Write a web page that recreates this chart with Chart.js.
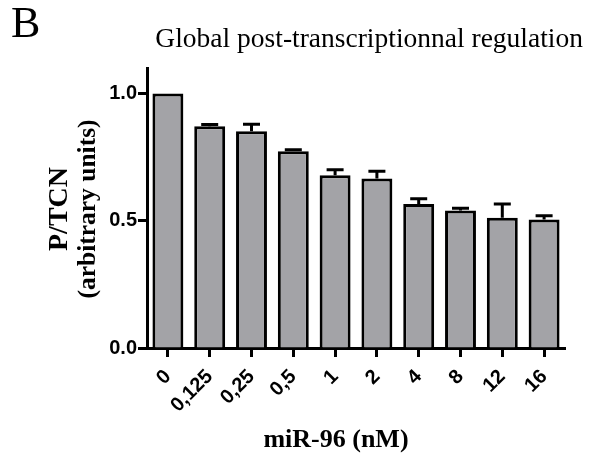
<!DOCTYPE html>
<html><head><meta charset="utf-8">
<script src="https://cdn.jsdelivr.net/npm/chart.js@4.4.1/dist/chart.umd.min.js"></script>
<style>html,body{margin:0;padding:0;background:#fff}#wrap{width:596px;height:455px;position:relative}</style>
</head><body><div id="wrap"><canvas id="c" width="596" height="455"></canvas></div>
<script>
// ---- data ----
const categories = ['0', '0,125', '0,25', '0,5', '1', '2', '4', '8', '12', '16'];
const values = [1.000, 0.871, 0.852, 0.773, 0.679, 0.666, 0.566, 0.540, 0.512, 0.505];
const errors = [0.000, 0.007, 0.027, 0.006, 0.021, 0.028, 0.020, 0.009, 0.054, 0.015];
const yTickValues = [0, 0.5, 1.0];
const panelLabel = 'B';
const chartTitle = 'Global post-transcriptionnal regulation';
const xTitle = 'miR-96 (nM)';
const yTitle = ['P/TCN', '(arbitrary units)'];

const SERIF = '"Liberation Serif", "Times New Roman", serif';
const SANS = '"Liberation Sans", Arial, sans-serif';

const errorBars = {
  id: 'errorBars',
  afterDatasetsDraw(chart) {
    const ctx = chart.ctx;
    const meta = chart.getDatasetMeta(0);
    const ys = chart.scales.y;
    ctx.save();
    ctx.strokeStyle = '#000';
    ctx.lineWidth = 3;
    ctx.lineCap = 'butt';
    meta.data.forEach((bar, i) => {
      if (!errors[i]) return;
      const yTop = ys.getPixelForValue(values[i] + errors[i]);
      const yBar = bar.y;
      ctx.beginPath();
      ctx.moveTo(bar.x, yBar);
      ctx.lineTo(bar.x, yTop);
      ctx.moveTo(bar.x - 8.5, yTop);
      ctx.lineTo(bar.x + 8.5, yTop);
      ctx.stroke();
    });
    ctx.restore();
  }
};

const texts = {
  id: 'texts',
  afterDraw(chart) {
    const ctx = chart.ctx;
    ctx.save();
    ctx.fillStyle = '#000';
    ctx.textBaseline = 'alphabetic';
    // panel label
    ctx.font = '44px ' + SERIF;
    ctx.textAlign = 'left';
    ctx.fillText(panelLabel, 11, 37);
    // title
    ctx.font = '27.5px ' + SERIF;
    ctx.textAlign = 'right';
    ctx.fillText(chartTitle, 583, 47);
    // x title
    ctx.font = 'bold 26px ' + SERIF;
    ctx.textAlign = 'center';
    ctx.fillText(xTitle, 336, 447);
    // y title (rotated)
    ctx.translate(0, 209);
    ctx.rotate(-Math.PI / 2);
    ctx.textAlign = 'center';
    ctx.textBaseline = 'middle';
    ctx.font = 'bold 28px ' + SERIF;
    ctx.fillText(yTitle[0], 0, 60);
    ctx.font = 'bold 25.5px ' + SERIF;
    ctx.fillText(yTitle[1], 0, 88);
    ctx.restore();
  }
};

new Chart(document.getElementById('c'), {
  type: 'bar',
  data: {
    labels: categories,
    datasets: [{
      data: values,
      backgroundColor: '#a3a3a7',
      borderColor: '#000',
      borderWidth: 3,
      barPercentage: 0.74,
      categoryPercentage: 1.0
    }]
  },
  options: {
    responsive: false,
    animation: false,
    devicePixelRatio: 1,
    layout: { padding: { left: 0, top: 68, right: 31, bottom: 0 } },
    plugins: { legend: { display: false }, tooltip: { enabled: false }, title: { display: false } },
    scales: {
      x: {
        offset: true,
        grid: { display: true, drawOnChartArea: false, drawTicks: true, offset: false, tickLength: 9, tickWidth: 3, tickColor: '#000' },
        border: { display: true, color: '#000', width: 3 },
        ticks: {
          autoSkip: false, maxRotation: 45, minRotation: 45, padding: 8,
          color: '#000', font: { family: SANS, size: 20, weight: 'bold' }
        },
        afterFit(scale) { scale.height = 107; }
      },
      y: {
        min: 0, max: 1.1,
        grid: { display: true, drawOnChartArea: false, drawTicks: true, tickLength: 9, tickWidth: 3, tickColor: '#000' },
        border: { display: true, color: '#000', width: 3 },
        afterBuildTicks(scale) { scale.ticks = yTickValues.map(v => ({ value: v })); },
        ticks: {
          padding: 1, color: '#000', font: { family: SANS, size: 20, weight: 'bold' },
          callback: v => Number(v).toFixed(1)
        },
        afterFit(scale) { scale.width = 147; }
      }
    }
  },
  plugins: [errorBars, texts]
});
</script>
</body></html>
